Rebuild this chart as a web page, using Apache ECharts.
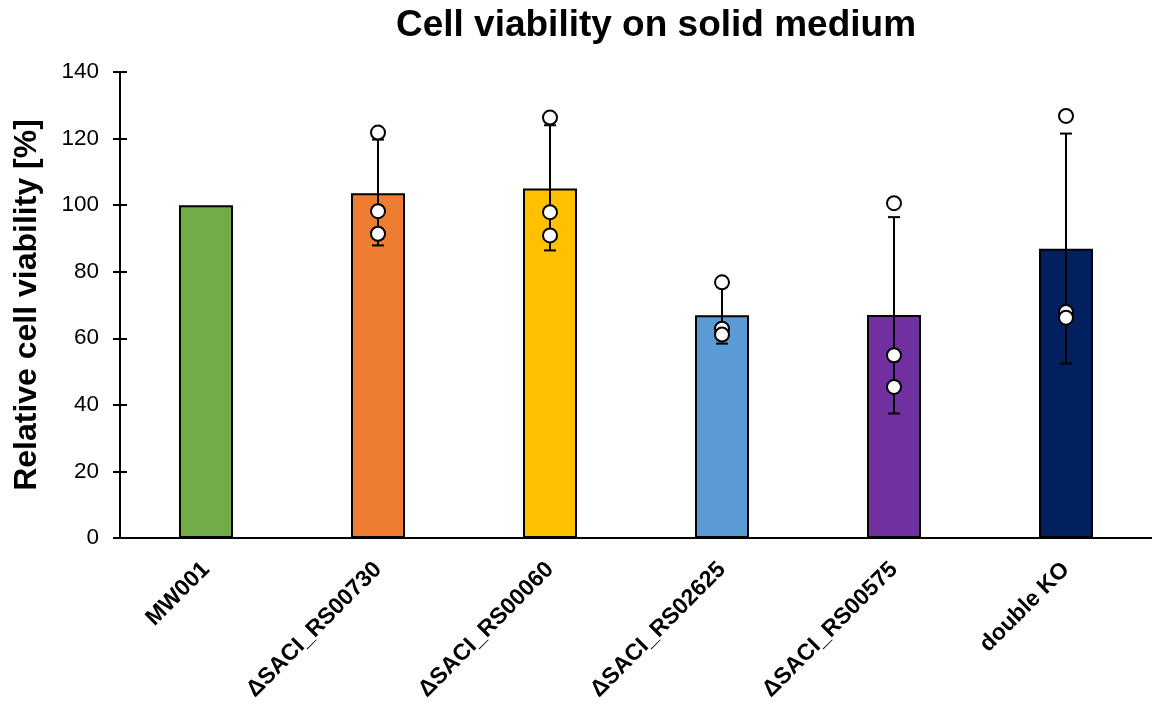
<!DOCTYPE html>
<html>
<head>
<meta charset="utf-8">
<script src="https://cdn.jsdelivr.net/npm/echarts@6/dist/echarts.min.js"></script>
<style>
html,body{margin:0;padding:0;background:#fff;}
#chart{width:1152px;height:704px;}
</style>
</head>
<body>
<div id="chart"></div>
<script>
const categories = ['MW001', 'ΔSACI_RS00730', 'ΔSACI_RS00060', 'ΔSACI_RS02625', 'ΔSACI_RS00575', 'double KO'];
const means = [100, 103.6, 105.0, 66.9, 67.0, 86.9];
const errHigh = [null, 119.7, 124.0, 75.5, 96.4, 121.5];
const errLow = [null, 87.9, 86.4, 58.4, 37.4, 52.4];
const rep1 = [null, 121.8, 126.3, 76.8, 100.6, 126.8];
const rep2 = [null, 98.2, 97.9, 62.9, 54.9, 67.9];
const rep3 = [null, 91.4, 90.9, 61.1, 45.4, 66.2];
const colors = ['#70AD47', '#ED7D31', '#FFC000', '#5B9BD5', '#7030A0', '#002060'];
const yTicks = [0, 20, 40, 60, 80, 100, 120, 140];

const FONT = '"Liberation Sans", Arial, sans-serif';
const chart = echarts.init(document.getElementById('chart'));

const errData = categories.map((c, i) => [i, errLow[i], errHigh[i]]).filter(d => d[1] != null);
const pointData = [];
categories.forEach((c, i) => {
  [rep1, rep2, rep3].forEach(r => { if (r[i] != null) pointData.push([i, r[i]]); });
});

chart.setOption({
  animation: false,
  backgroundColor: '#fff',
  title: {
    text: 'Cell viability on solid medium',
    left: 651, top: 2, textAlign: 'center',
    textStyle: { fontFamily: FONT, fontSize: 37, fontWeight: 'bold', color: '#000' }
  },
  grid: { left: 120, top: 72, width: 1036, height: 466 },
  xAxis: {
    type: 'category', data: categories,
    axisLine: { lineStyle: { color: '#000', width: 2 } },
    axisTick: { show: false },
    axisLabel: { rotate: 45, margin: 28, interval: 0, fontFamily: FONT, fontSize: 23, fontWeight: 'bold', color: '#000' }
  },
  yAxis: [{
    type: 'value', min: 0, max: 140, interval: 20,
    name: 'Relative cell viability [%]', nameLocation: 'middle', nameGap: 77,
    nameTextStyle: { fontFamily: FONT, fontSize: 32, fontWeight: 'bold', color: '#000', padding: [0, 0, 0, 0] },
    axisLine: { show: true, lineStyle: { color: '#000', width: 2 } },
    axisTick: { show: true, length: 7, lineStyle: { color: '#000', width: 2 } },
    axisLabel: { margin: 21, fontFamily: FONT, fontSize: 22.5, color: '#000',
      formatter: v => yTicks.includes(v) ? String(v) : '' },
    splitLine: { show: false }
  }, {
    type: 'value', min: 0, max: 140, interval: 20, position: 'left',
    axisLine: { show: false },
    axisTick: { show: true, inside: true, length: 7, lineStyle: { color: '#000', width: 2 } },
    axisLabel: { show: false }, splitLine: { show: false }
  }],
  series: [{
    type: 'bar', data: means.map((v, i) => ({ value: v, itemStyle: { color: colors[i] } })),
    barWidth: 54,
    itemStyle: { borderColor: '#000', borderWidth: 2 },
    z: 2
  }, {
    type: 'custom', data: errData, z: 3,
    renderItem: (params, api) => {
      const x = api.value(0);
      const lo = api.coord([x, api.value(1)]);
      const hi = api.coord([x, api.value(2)]);
      const hw = 6;
      const st = { stroke: '#000', lineWidth: 2 };
      return { type: 'group', children: [
        { type: 'line', shape: { x1: lo[0], y1: lo[1], x2: hi[0], y2: hi[1] }, style: st },
        { type: 'line', shape: { x1: lo[0] - hw, y1: lo[1], x2: lo[0] + hw, y2: lo[1] }, style: st },
        { type: 'line', shape: { x1: hi[0] - hw, y1: hi[1], x2: hi[0] + hw, y2: hi[1] }, style: st }
      ] };
    }
  }, {
    type: 'scatter', data: pointData, z: 4,
    symbol: 'circle', symbolSize: 14,
    itemStyle: { color: '#fff', borderColor: '#000', borderWidth: 2, opacity: 1 }
  }]
});
</script>
</body>
</html>
